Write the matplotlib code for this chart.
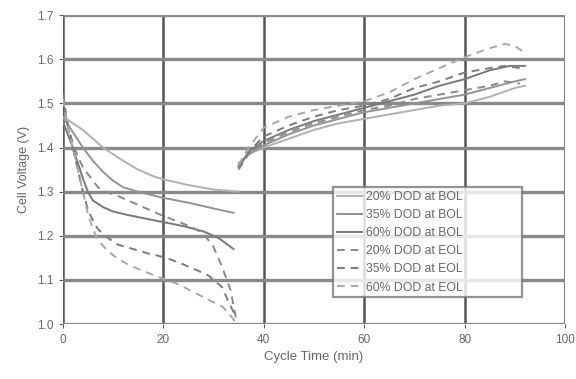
import matplotlib
matplotlib.use("Agg")
import matplotlib.pyplot as plt
import numpy as np

# discharge (0-35 min) and charge (35-92 min) for each case
labels = ["20% DOD at BOL", "35% DOD at BOL", "60% DOD at BOL",
          "20% DOD at EOL", "35% DOD at EOL", "60% DOD at EOL"]

dis_t = [
    [0, 2, 4, 6, 8, 10, 12, 15, 18, 20, 25, 30, 35],
    [0, 2, 4, 6, 8, 10, 12, 15, 20, 25, 30, 34],
    [0, 1, 2, 3, 4, 5, 6, 8, 10, 13, 16, 20, 24, 28, 31, 34],
    [0, 1, 2, 3, 4, 5, 6, 7, 9, 11, 14, 17, 20, 23, 26, 28, 30, 31.7, 33.4, 34.7],
    [0, 1, 2, 3, 4, 5, 6, 7, 9, 11, 14, 17, 20, 23, 26.5, 29, 31.7, 33, 34.5],
    [0, 1, 2, 3, 4, 5, 6, 7, 9, 10.7, 13, 16, 19, 23, 26.5, 29, 31.7, 33, 34.7],
]
dis_v = [
    [1.47, 1.455, 1.44, 1.42, 1.40, 1.385, 1.37, 1.35, 1.335, 1.328, 1.315, 1.305, 1.30],
    [1.47, 1.435, 1.40, 1.37, 1.345, 1.325, 1.31, 1.30, 1.286, 1.275, 1.262, 1.252],
    [1.46, 1.43, 1.40, 1.365, 1.33, 1.30, 1.28, 1.265, 1.255, 1.247, 1.24, 1.231, 1.222, 1.21, 1.195, 1.17],
    [1.52, 1.45, 1.41, 1.38, 1.355, 1.34, 1.325, 1.31, 1.298, 1.29, 1.275, 1.26, 1.245, 1.232, 1.218, 1.205, 1.175, 1.13, 1.077, 1.0],
    [1.52, 1.45, 1.40, 1.35, 1.30, 1.26, 1.235, 1.215, 1.195, 1.18, 1.17, 1.16, 1.152, 1.14, 1.123, 1.11, 1.084, 1.05, 1.016],
    [1.51, 1.45, 1.40, 1.35, 1.30, 1.25, 1.215, 1.19, 1.165, 1.15, 1.135, 1.12, 1.107, 1.09, 1.07, 1.055, 1.04, 1.025, 1.0],
]

chg_t = [
    [35, 37, 40, 45, 50, 55, 60, 65, 70, 75, 80, 85, 90, 92],
    [35, 37, 40, 45, 50, 55, 60, 65, 70, 75, 80, 85, 90, 92],
    [35, 37, 40, 45, 50, 55, 60, 65, 70, 75, 80, 85, 89, 92],
    [35, 37, 40, 45, 50, 55, 60, 65, 70, 75, 80, 85, 88, 91],
    [35, 37, 40, 45, 50, 55, 60, 65, 70, 75, 80, 85, 88, 91],
    [35, 37, 40, 45, 50, 55, 60, 65, 70, 75, 80, 85, 88, 90, 92],
]
chg_v = [
    [1.365, 1.385, 1.40, 1.42, 1.44, 1.455, 1.465, 1.475, 1.485, 1.495, 1.50, 1.515, 1.535, 1.54],
    [1.36, 1.385, 1.405, 1.43, 1.45, 1.465, 1.48, 1.49, 1.50, 1.51, 1.52, 1.535, 1.55, 1.555],
    [1.355, 1.39, 1.415, 1.44, 1.46, 1.475, 1.49, 1.505, 1.52, 1.54, 1.555, 1.575, 1.585, 1.585],
    [1.35, 1.385, 1.41, 1.435, 1.455, 1.47, 1.485, 1.495, 1.51, 1.52, 1.53, 1.54, 1.55, 1.545],
    [1.355, 1.39, 1.425, 1.45, 1.47, 1.485, 1.495, 1.51, 1.535, 1.55, 1.57, 1.58, 1.585, 1.58],
    [1.36, 1.40, 1.445, 1.47, 1.485, 1.495, 1.505, 1.525, 1.555, 1.58, 1.605, 1.625, 1.635, 1.63, 1.615],
]

styles = ["-", "-", "-", (0, (4, 3)), (0, (4, 3)), (0, (4, 3))]
colors = ["#b0b0b0", "#939393", "#7a7a7a", "#8a8a8a", "#7c7c7c", "#a8a8a8"]

plt.rcParams['font.family'] = ['Liberation Sans', 'DejaVu Sans']

fig = plt.figure(figsize=(5.76, 3.79), dpi=100)
ax = fig.add_axes([0.109, 0.145, 0.872, 0.815])

for i in range(6):
    ax.plot(dis_t[i], dis_v[i], linestyle=styles[i], color=colors[i], lw=1.4, label=labels[i])
    ax.plot(chg_t[i], chg_v[i], linestyle=styles[i], color=colors[i], lw=1.4)

ax.set_xlim(0, 100)
ax.set_ylim(1.0, 1.7)
ax.set_xticks([0, 20, 40, 60, 80, 100])
ax.set_yticks(np.arange(1.0, 1.71, 0.1))
ax.set_yticklabels(["1.0", "1.1", "1.2", "1.3", "1.4", "1.5", "1.6", "1.7"])
ax.xaxis.grid(True, color="#555555", lw=1.8)
ax.yaxis.grid(True, color="#8a8a8a", lw=2.4)
ax.set_axisbelow(True)
for s in ax.spines.values():
    s.set_visible(False)
ax.tick_params(length=3, color="#5a5a5a", labelsize=8.5, labelcolor="#666666", pad=4)
ax.set_xlabel("Cycle Time (min)", fontsize=9.5, color="#666666", labelpad=4)
ax.set_ylabel("Cell Voltage (V)", fontsize=9, color="#666666", labelpad=5)

leg = ax.legend(loc="lower left", bbox_to_anchor=(0.538, 0.087, 0.376, 0.424), mode="expand",
                fontsize=8.8, frameon=True, fancybox=False, handlelength=2.1,
                borderpad=0.3, labelspacing=0.5, handletextpad=0.3, borderaxespad=0)
leg.get_frame().set_edgecolor("#777777")
leg.get_frame().set_linewidth(1.6)
for t in leg.get_texts():
    t.set_color("#666666")

fig.savefig("out.png", dpi=100)
